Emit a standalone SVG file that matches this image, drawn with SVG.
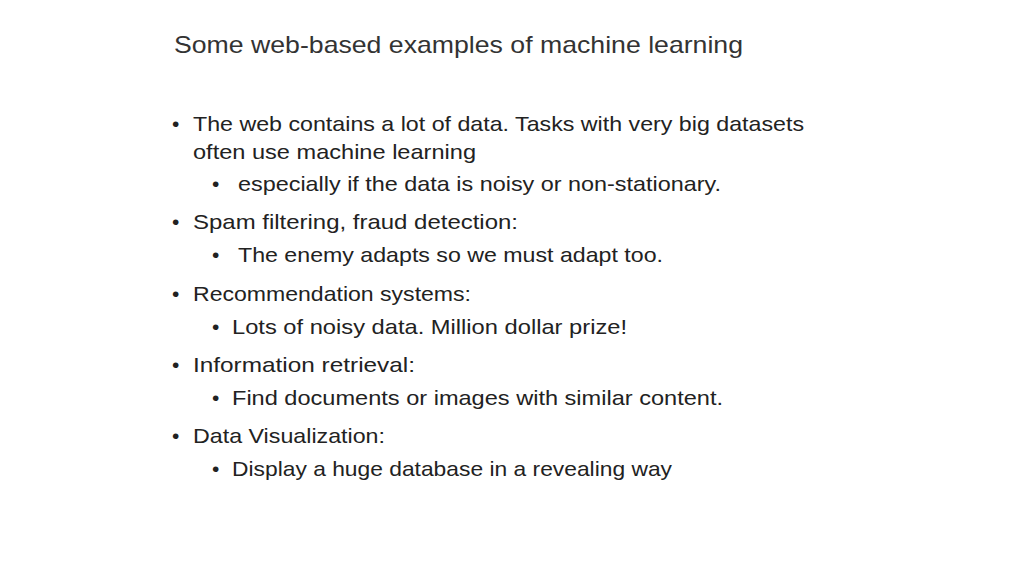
<svg xmlns="http://www.w3.org/2000/svg" width="1024" height="576" viewBox="0 0 1024 576">
<style>
text{font-family:"Liberation Sans",Arial,sans-serif;fill:#222}
.t{font-size:24px;fill:#333}
.b{font-size:21px}
</style>
<rect width="1024" height="576" fill="#fff"/>
<text class="t" x="174" y="53" textLength="569" lengthAdjust="spacingAndGlyphs">Some web-based examples of machine learning</text>
<g class="b">
<text class="b" x="172" y="131">•</text>
<text class="b" x="193" y="131" textLength="611" lengthAdjust="spacingAndGlyphs">The web contains a lot of data. Tasks with very big datasets</text>
<text class="b" x="193" y="159" textLength="283" lengthAdjust="spacingAndGlyphs">often use machine learning</text>
<text class="b" x="212" y="191">•</text>
<text class="b" x="238" y="191" textLength="483" lengthAdjust="spacingAndGlyphs">especially if the data is noisy or non-stationary.</text>
<text class="b" x="172" y="229">•</text>
<text class="b" x="193" y="229" textLength="325" lengthAdjust="spacingAndGlyphs">Spam filtering, fraud detection:</text>
<text class="b" x="212" y="262">•</text>
<text class="b" x="238" y="262" textLength="425" lengthAdjust="spacingAndGlyphs">The enemy adapts so we must adapt too.</text>
<text class="b" x="172" y="301">•</text>
<text class="b" x="193" y="301" textLength="278" lengthAdjust="spacingAndGlyphs">Recommendation systems:</text>
<text class="b" x="212" y="334">•</text>
<text class="b" x="232" y="334" textLength="395" lengthAdjust="spacingAndGlyphs">Lots of noisy data. Million dollar prize!</text>
<text class="b" x="172" y="372">•</text>
<text class="b" x="193" y="372" textLength="222" lengthAdjust="spacingAndGlyphs">Information retrieval:</text>
<text class="b" x="212" y="405">•</text>
<text class="b" x="232" y="405" textLength="491" lengthAdjust="spacingAndGlyphs">Find documents or images with similar content.</text>
<text class="b" x="172" y="443">•</text>
<text class="b" x="193" y="443" textLength="192" lengthAdjust="spacingAndGlyphs">Data Visualization:</text>
<text class="b" x="212" y="476">•</text>
<text class="b" x="232" y="476" textLength="440" lengthAdjust="spacingAndGlyphs">Display a huge database in a revealing way</text>
</g>
</svg>
